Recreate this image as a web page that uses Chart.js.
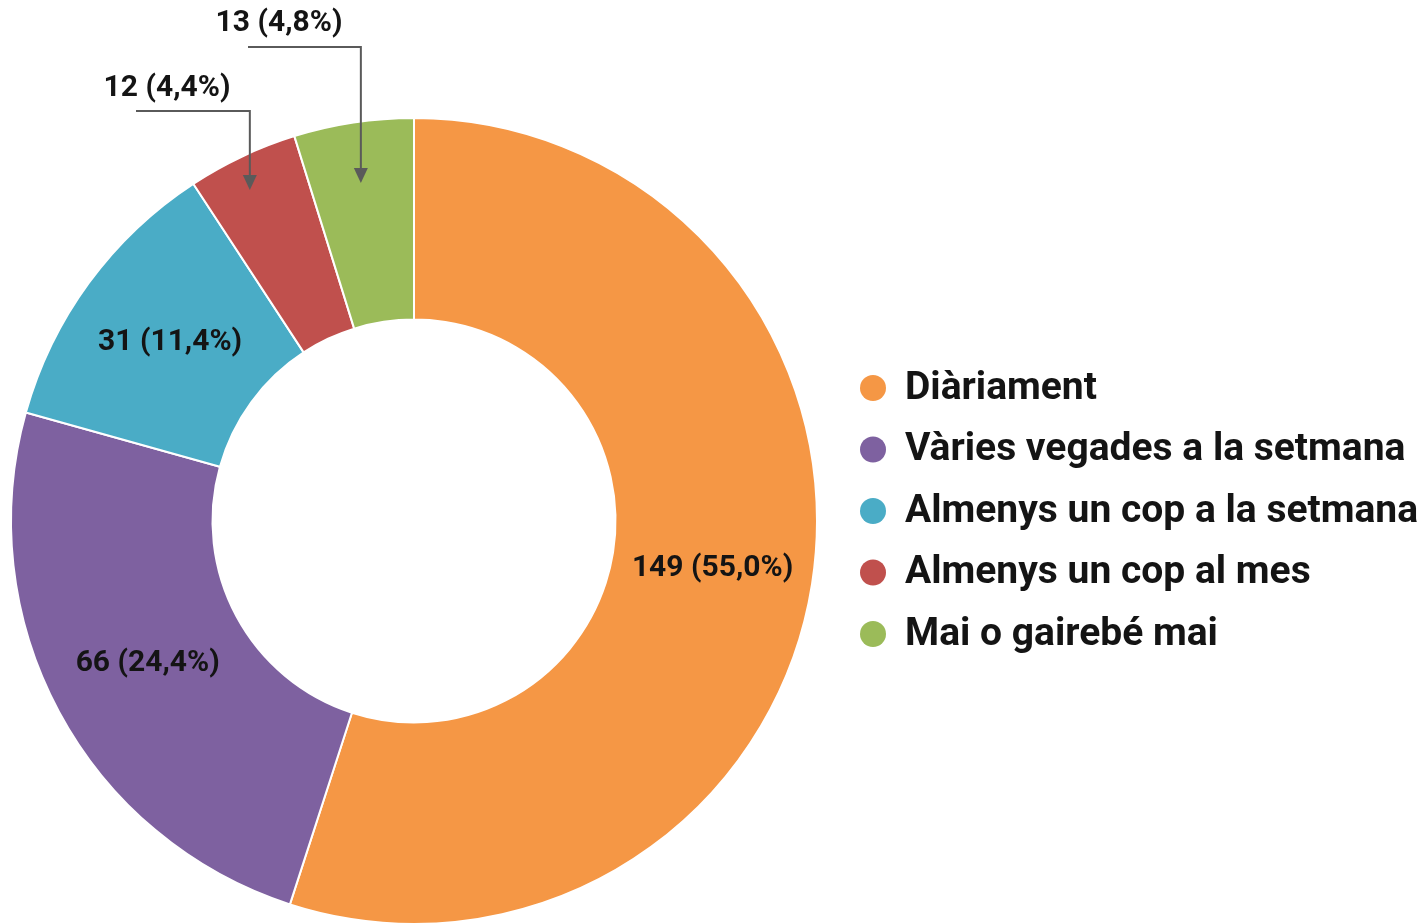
<!DOCTYPE html>
<html>
<head>
<meta charset="utf-8">
<script src="https://cdn.jsdelivr.net/npm/chart.js@4.4.1/dist/chart.umd.min.js"></script>
<style>
  html, body { margin: 0; padding: 0; background: #fff; overflow: hidden; }
  #wrap { position: absolute; left: 0; top: 0; width: 1428px; height: 940px; }
</style>
</head>
<body>
<div id="wrap"><canvas id="donut" width="1428" height="940"></canvas></div>
<script>
// ─── Data ───
const categories = [
    'Diàriament',
    'Vàries vegades a la setmana',
    'Almenys un cop a la setmana',
    'Almenys un cop al mes',
    'Mai o gairebé mai'
];
const counts = [149, 66, 31, 12, 13];
const percentLabels = ['55,0%', '24,4%', '11,4%', '4,4%', '4,8%'];
const sliceColors = ['#f59745', '#7e61a0', '#4aacc6', '#c0504d', '#9bbb59'];

const FONT = "Roboto, 'Noto Sans', sans-serif";
const TEXT = '#141414';

// small slices get a label outside with an arrow
const outside = {
    3: { lx: 167, ly: 88, lineY: 111, lineX: 136, r: 385, tipY: 190 },
    4: { lx: 279, ly: 23, lineY: 47, lineX: 248, r: 354, tipY: 183 }
};

const labelPlugin = {
    id: 'sliceLabels',
    afterDraw: (chart) => {
        const ctx = chart.ctx;
        const meta = chart.getDatasetMeta(0);
        ctx.save();
        ctx.font = `bold 30px ${FONT}`;
        ctx.fillStyle = TEXT;
        ctx.textAlign = 'center';
        ctx.textBaseline = 'middle';
        meta.data.forEach((arc, i) => {
            const text = `${counts[i]} (${percentLabels[i]})`;
            const o = outside[i];
            if (!o) {
                const p = arc.tooltipPosition();
                ctx.fillText(text, p.x, p.y);
                return;
            }
            const { x, startAngle, endAngle } = arc.getProps(['x', 'startAngle', 'endAngle']);
            const mid = (startAngle + endAngle) / 2;
            const ax = x + Math.cos(mid) * o.r;
            const ay = o.tipY;
            ctx.fillText(text, o.lx, o.ly);
            // leader line with arrow
            ctx.strokeStyle = '#5a5a5a';
            ctx.lineWidth = 2;
            ctx.beginPath();
            ctx.moveTo(o.lineX, o.lineY);
            ctx.lineTo(ax, o.lineY);
            ctx.lineTo(ax, ay - 12);
            ctx.stroke();
            ctx.fillStyle = '#5a5a5a';
            ctx.beginPath();
            ctx.moveTo(ax - 7, ay - 15);
            ctx.lineTo(ax + 7, ay - 15);
            ctx.lineTo(ax, ay);
            ctx.closePath();
            ctx.fill();
            ctx.fillStyle = TEXT;
        });

        // legend on the right
        ctx.textAlign = 'left';
        ctx.font = `bold 39px ${FONT}`;
        categories.forEach((c, i) => {
            const cy = 388 + i * 61.5;
            ctx.fillStyle = sliceColors[i];
            ctx.beginPath();
            ctx.arc(873, cy, 13, 0, Math.PI * 2);
            ctx.fill();
            ctx.fillStyle = TEXT;
            ctx.fillText(c, 905, cy + 1);
        });
        ctx.restore();
    }
};

new Chart(document.getElementById('donut').getContext('2d'), {
    type: 'doughnut',
    data: {
        labels: categories,
        datasets: [{
            data: counts,
            backgroundColor: sliceColors,
            borderColor: '#ffffff',
            borderWidth: 2
        }]
    },
    options: {
        responsive: false,
        animation: false,
        cutout: '50%',
        layout: { padding: { left: 10, top: 117, right: 610, bottom: 15 } },
        plugins: {
            legend: { display: false },
            tooltip: { enabled: false }
        }
    },
    plugins: [labelPlugin]
});
</script>
</body>
</html>
